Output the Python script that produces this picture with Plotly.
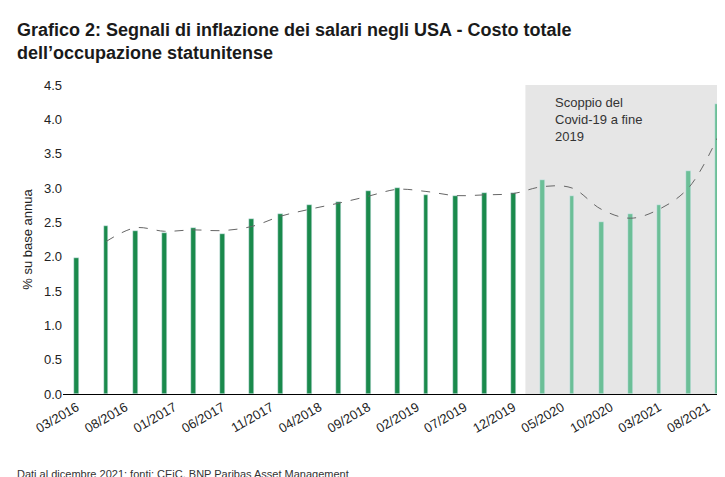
import plotly.graph_objects as go

# quarterly data, 03/2016 - 09/2021
dates = ["2016-03-01", "2016-06-01", "2016-09-01", "2016-12-01",
         "2017-03-01", "2017-06-01", "2017-09-01", "2017-12-01",
         "2018-03-01", "2018-06-01", "2018-09-01", "2018-12-01",
         "2019-03-01", "2019-06-01", "2019-09-01", "2019-12-01",
         "2020-03-01", "2020-06-01", "2020-09-01", "2020-12-01",
         "2021-03-01", "2021-06-01", "2021-09-01"]
values = [1.98, 2.45, 2.38, 2.35, 2.42, 2.33, 2.55, 2.62, 2.75, 2.80, 2.95, 3.00,
          2.90, 2.88, 2.92, 2.92, 3.12, 2.88, 2.50, 2.62, 2.75, 3.25, 4.22]
# dashed trend line
trend = [None, 2.22, 2.42, 2.37, 2.39, 2.38, 2.44, 2.59, 2.69, 2.78, 2.88, 2.98,
         2.95, 2.89, 2.90, 2.92, 3.02, 3.00, 2.69, 2.56, 2.69, 3.00, 3.74]
tick_dates = ["2016-03-01", "2016-08-01", "2017-01-01", "2017-06-01", "2017-11-01",
              "2018-04-01", "2018-09-01", "2019-02-01", "2019-07-01", "2019-12-01",
              "2020-05-01", "2020-10-01", "2021-03-01", "2021-08-01"]
tick_labels = ["03/2016", "08/2016", "01/2017", "06/2017", "11/2017", "04/2018",
               "09/2018", "02/2019", "07/2019", "12/2019", "05/2020", "10/2020",
               "03/2021", "08/2021"]

colors = ["#1a8a4c" if d < "2020-01-01" else "#6cbf97" for d in dates]

fig = go.Figure()
fig.add_shape(type="rect", xref="x", yref="paper", x0="2020-01-07", x1="2021-09-27",
              y0=0, y1=1, fillcolor="#e6e6e6", line_width=0, layer="below")
fig.add_trace(go.Bar(x=dates, y=values, marker_color=colors, width=15 * 86400000,
                     showlegend=False))
fig.add_trace(go.Scatter(x=dates, y=trend, mode="lines", line_shape="spline",
                         line=dict(color="#666666", width=1, dash="dash"),
                         showlegend=False))

fig.add_annotation(x="2020-04-01", y=4.0, xref="x", yref="y", xanchor="left",
                   showarrow=False, align="left",
                   text="Scoppio del<br>Covid-19 a fine<br>2019",
                   font=dict(size=13, color="#333333"))

# title
fig.add_annotation(x=0, y=1, xref="paper", yref="paper", xanchor="left", yanchor="bottom",
                   xshift=-48, yshift=20, showarrow=False, align="left",
                   text="<b>Grafico 2: Segnali di inflazione dei salari negli USA - Costo totale<br>dell’occupazione statunitense</b>",
                   font=dict(size=18, color="#1a1a1a"))
# footnote
fig.add_annotation(x=0, y=0, xref="paper", yref="paper", xanchor="left", yanchor="top",
                   xshift=-48, yshift=-72, showarrow=False,
                   text="Dati al dicembre 2021; fonti: CEiC, BNP Paribas Asset Management",
                   font=dict(size=11, color="#333333"))

fig.update_layout(
    width=725, height=477, plot_bgcolor="white", paper_bgcolor="white",
    font=dict(family="Liberation Sans, Arial", size=13, color="#222222"),
    margin=dict(l=55, r=7, t=77, b=91, autoexpand=False),
    bargap=0,
)
fig.update_xaxes(range=["2016-01-18", "2021-09-27"], tickvals=tick_dates,
                 ticktext=tick_labels, tickangle=-30, showgrid=False,
                 showline=True, linecolor="black", ticks="")
fig.update_yaxes(range=[0, 4.5], dtick=0.5, tickformat=".1f", showgrid=False,
                 title=dict(text="% su base annua", font=dict(size=13), standoff=8),
                 zeroline=False)

fig.write_html("out.html")
